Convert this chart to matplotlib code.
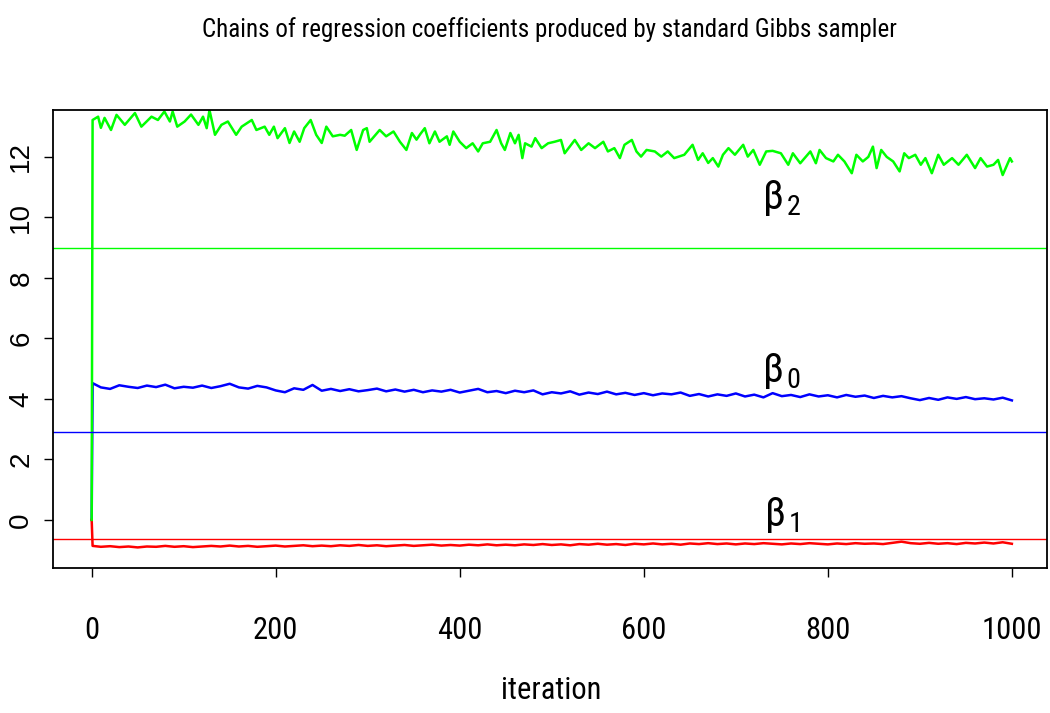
import matplotlib
matplotlib.use("Agg")
import matplotlib.pyplot as plt
from matplotlib import font_manager as fm

# pick a narrow font if there is one
names = set(f.name for f in fm.fontManager.ttflist)
narrow = "DejaVu Sans"
for cand in ["Liberation Sans Narrow", "Roboto Condensed", "DejaVu Sans Condensed", "Liberation Sans"]:
    if cand in names:
        narrow = cand
        break
wide = "Liberation Sans" if "Liberation Sans" in names else "DejaVu Sans"

plt.rcParams["mathtext.fontset"] = "custom"
plt.rcParams["mathtext.rm"] = narrow
plt.rcParams["mathtext.it"] = narrow
plt.rcParams["mathtext.sf"] = narrow

# beta2 chain (green)
b2_iter = [0, 1, 7, 10, 14, 21, 27, 36, 47, 54, 65, 72, 79, 85, 88, 93, 101, 108, 116, 121,
           125, 128, 134, 141, 148, 157, 163, 174, 179, 188, 193, 198, 202, 210, 215, 220, 226,
           231, 238, 244, 250, 255, 262, 270, 275, 282, 288, 295, 299, 302, 313, 320, 328, 335,
           342, 348, 353, 357, 362, 367, 373, 378, 386, 389, 393, 400, 407, 414, 420, 425, 433,
           440, 445, 449, 455, 460, 464, 468, 471, 478, 482, 489, 496, 503, 510, 514, 525, 532,
           540, 547, 556, 561, 568, 574, 579, 587, 592, 597, 603, 612, 619, 626, 633, 644, 653,
           659, 664, 670, 675, 681, 686, 692, 699, 708, 713, 719, 726, 733, 740, 749, 757, 762,
           770, 781, 787, 791, 798, 806, 811, 818, 826, 831, 838, 844, 849, 853, 858, 864, 871,
           878, 883, 888, 895, 901, 906, 913, 920, 926, 935, 942, 951, 960, 966, 973, 980, 985,
           990, 998, 1000]
b2_val = [0, 13.22, 13.33, 12.96, 13.29, 12.89, 13.39, 13.06, 13.45, 13.0, 13.33, 13.22, 13.5,
          13.17, 13.5, 13.0, 13.17, 13.4, 13.06, 13.33, 12.95, 13.55, 12.73, 13.06, 13.17, 12.73,
          13.0, 13.22, 12.89, 13.0, 12.73, 13.0, 12.62, 12.95, 12.46, 12.84, 12.5, 12.95, 13.22,
          12.73, 12.46, 13.0, 12.68, 12.73, 12.7, 12.89, 12.23, 12.89, 12.95, 12.5, 12.89, 12.68,
          12.84, 12.5, 12.23, 12.79, 12.57, 12.75, 12.95, 12.45, 12.84, 12.5, 12.68, 12.4, 12.84,
          12.5, 12.29, 12.45, 12.18, 12.45, 12.5, 12.89, 12.45, 12.23, 12.79, 12.45, 12.73, 11.96,
          12.45, 12.34, 12.62, 12.29, 12.45, 12.5, 12.56, 12.12, 12.56, 12.23, 12.45, 12.29, 12.5,
          12.18, 12.29, 11.96, 12.4, 12.56, 12.18, 12.01, 12.23, 12.18, 12.01, 12.18, 11.96, 12.07,
          12.4, 11.9, 12.12, 11.8, 11.96, 11.68, 12.07, 12.29, 12.07, 12.4, 12.01, 12.23, 11.74,
          12.18, 12.2, 12.12, 11.74, 12.12, 11.79, 12.18, 11.79, 12.23, 11.96, 11.85, 12.07, 11.85,
          11.46, 12.07, 11.85, 12.0, 12.34, 11.63, 12.23, 12.0, 11.85, 11.52, 12.12, 11.96, 12.07,
          11.74, 11.96, 11.46, 12.07, 11.74, 11.96, 11.74, 12.07, 11.63, 11.96, 11.68, 11.74, 11.9,
          11.4, 11.96, 11.85]

# beta0 (blue) and beta1 (red) chains, every 10 iterations
b01_iter = [0, 1] + list(range(10, 1001, 10))
b0_val = [0, 4.52, 4.38, 4.33, 4.45, 4.40, 4.36, 4.44, 4.39, 4.47, 4.35, 4.40, 4.37, 4.44, 4.36,
          4.42, 4.50, 4.38, 4.34, 4.43, 4.38, 4.28, 4.22, 4.35, 4.30, 4.46, 4.27, 4.33, 4.26, 4.32,
          4.25, 4.29, 4.34, 4.25, 4.31, 4.24, 4.30, 4.22, 4.28, 4.24, 4.30, 4.21, 4.27, 4.33, 4.22,
          4.26, 4.19, 4.27, 4.22, 4.28, 4.15, 4.22, 4.18, 4.25, 4.14, 4.21, 4.16, 4.24, 4.15, 4.20,
          4.13, 4.19, 4.12, 4.18, 4.15, 4.21, 4.10, 4.16, 4.08, 4.15, 4.10, 4.18, 4.08, 4.14, 4.05,
          4.19, 4.09, 4.13, 4.06, 4.15, 4.08, 4.12, 4.05, 4.13, 4.07, 4.11, 4.03, 4.10, 4.05, 4.09,
          4.02, 3.96, 4.03, 3.97, 4.05, 4.00, 4.06, 3.99, 4.02, 3.98, 4.04, 3.95]
b1_val = [0, -0.86, -0.89, -0.87, -0.90, -0.88, -0.91, -0.88, -0.89, -0.86, -0.89, -0.87, -0.90,
          -0.88, -0.86, -0.88, -0.85, -0.88, -0.86, -0.89, -0.87, -0.85, -0.88, -0.86, -0.84,
          -0.87, -0.85, -0.87, -0.84, -0.86, -0.83, -0.86, -0.84, -0.87, -0.85, -0.83, -0.86,
          -0.84, -0.82, -0.85, -0.83, -0.85, -0.82, -0.84, -0.81, -0.84, -0.82, -0.84, -0.81,
          -0.83, -0.80, -0.83, -0.81, -0.84, -0.80, -0.82, -0.79, -0.82, -0.80, -0.83, -0.79,
          -0.81, -0.78, -0.81, -0.79, -0.82, -0.78, -0.80, -0.77, -0.80, -0.78, -0.81, -0.78,
          -0.80, -0.77, -0.79, -0.81, -0.78, -0.80, -0.77, -0.79, -0.81, -0.78, -0.80, -0.77,
          -0.79, -0.78, -0.80, -0.76, -0.72, -0.77, -0.79, -0.76, -0.79, -0.77, -0.80, -0.76,
          -0.78, -0.75, -0.78, -0.74, -0.79]

# true values (horizontal lines)
true_b0 = 2.9
true_b1 = -0.63
true_b2 = 9.0

xticks = [0, 200, 400, 600, 800, 1000]
yticks = [0, 2, 4, 6, 8, 10, 12]

fig = plt.figure(figsize=(10.5, 7.13), dpi=100)
ax = fig.add_axes([0.0505, 0.2034, 0.9465, 0.6423])

ax.plot(b01_iter, b0_val, color="#0000ff", lw=1.8)
ax.plot(b01_iter, b1_val, color="#ff0000", lw=1.8)
ax.plot(b2_iter, b2_val, color="#00ff00", lw=1.8)
ax.axhline(true_b2, color="#00ff00", lw=1)
ax.axhline(true_b0, color="#0000ff", lw=1)
ax.axhline(true_b1, color="#ff0000", lw=1)

ax.text(750, 10.64, r"$\beta_{\,2}$", fontsize=29, ha="center", va="center")
ax.text(750, 4.93, r"$\beta_{\,0}$", fontsize=29, ha="center", va="center")
ax.text(750, 0.17, r"$\beta_{\,1}$", fontsize=29, ha="center", va="center")

ax.set_xlim(-42, 1038)
ax.set_ylim(-1.59, 13.55)
ax.set_xticks(xticks)
ax.set_yticks(yticks)
ax.set_xticklabels([str(v) for v in xticks], fontfamily=narrow, fontsize=22)
ax.set_yticklabels([str(v) for v in yticks], fontfamily=wide, fontsize=20,
                   rotation=90, va="center")
ax.tick_params(axis="x", length=6.5, width=1, pad=28)
ax.tick_params(axis="y", length=6.5, width=1, pad=7)
for s in ax.spines.values():
    s.set_linewidth(1.3)

fig.text(0.523, 0.958, "Chains of regression coefficients produced by standard Gibbs sampler",
         ha="center", va="center", fontfamily=narrow, fontsize=18)
fig.text(0.525, 0.032, "iteration", ha="center", va="center", fontfamily=narrow, fontsize=22)

fig.savefig("out.png", dpi=100)
